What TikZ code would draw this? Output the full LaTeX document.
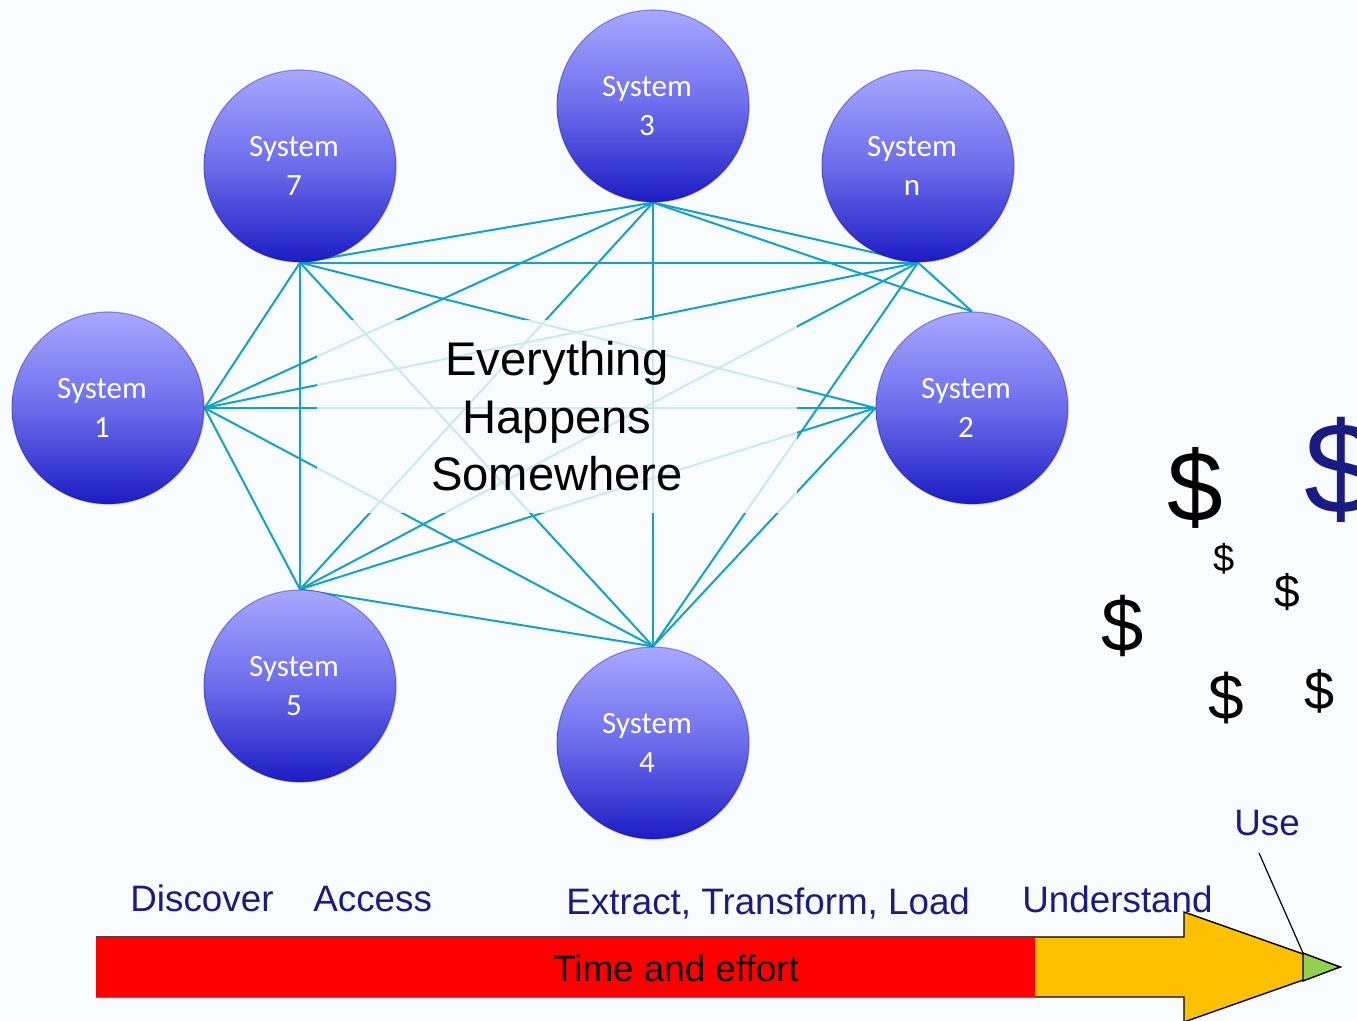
\documentclass[tikz,border=0pt]{standalone}
\usepackage{fontspec}
\setmainfont{Liberation Sans}
\newfontfamily\calfont{Carlito}
\usetikzlibrary{shadows}
\definecolor{bgc}{RGB}{248,252,254}
\definecolor{linec}{RGB}{18,163,196}
\definecolor{navyt}{RGB}{28,28,128}
\definecolor{dollarnavy}{RGB}{26,26,130}
\definecolor{sphtop}{RGB}{168,168,255}
\definecolor{sphmid}{RGB}{108,108,236}
\definecolor{sphbot}{RGB}{28,28,196}
\definecolor{arrowyel}{RGB}{255,192,0}
\definecolor{tipgreen}{RGB}{146,208,80}
\pgfdeclarelayer{back}
\pgfdeclarelayer{links}
\pgfsetlayers{back,links,main}
\newcommand{\syslabel}[1]{System\kern6pt\\#1\kern6pt}
\begin{document}
\begin{tikzpicture}[x=0.5pt,y=-0.5pt,
  sphere/.style={circle, minimum size=96pt, inner sep=0pt,
    top color=sphtop, bottom color=sphbot, middle color=sphmid,
    draw=sphbot!60!black, draw opacity=0.35, line width=0.6pt,
    circular drop shadow={opacity=0.3, shadow xshift=0.8pt, shadow yshift=-1.2pt, shadow scale=1.0},
    text=white, align=center, font=\calfont\fontsize{15.5}{19.5}\selectfont},
  link/.style={linec, line width=1pt},
  stage/.style={text=navyt, font=\fontsize{18.4}{22}\selectfont, inner sep=0pt, anchor=base west},
  dollar/.style={inner sep=0pt, font=\fontsize{#1}{#1}\selectfont},
  outl/.style={draw=black, line width=0.7pt}
]
\useasboundingbox (0,0) rectangle (1357,1021);
\begin{pgfonlayer}{back}
  \fill[bgc] (0,0) rectangle (1357,1021);
\end{pgfonlayer}
\begin{scope}
\clip (0,0) rectangle (1357,1021);

% central label with translucent box
\node[fill=bgc, fill opacity=0.8, text opacity=1, minimum width=240pt, minimum height=96.5pt,
  inner sep=0pt, align=center, font=\fontsize{23.6}{28.75}\selectfont] (ehs) at (557,416.5)
  {Everything\\Happens\\Somewhere};

% spheres
\node[sphere] (s3) at (653,106) {\syslabel{3}};
\node[sphere] (s7) at (300,166) {\syslabel{7}};
\node[sphere] (sn) at (918,166) {\syslabel{n}};
\node[sphere] (s1) at (108,408) {\syslabel{1}};
\node[sphere] (s2) at (972,408) {\syslabel{2}};
\node[sphere] (s5) at (300,686) {\syslabel{5}};
\node[sphere] (s4) at (653,743) {\syslabel{4}};

% links
\begin{pgfonlayer}{links}
  \draw[link] (s7.south) -- (s3.south);
  \draw[link] (s7.south) -- (sn.south);
  \draw[link] (s7.south) -- (s1.east);
  \draw[link] (s7.south) -- (s2.west);
  \draw[link] (s7.south) -- (s5.north);
  \draw[link] (s7.south) -- (s4.north);
  \draw[link] (s3.south) -- (sn.south);
  \draw[link] (s3.south) -- (s1.east);
  \draw[link] (s3.south) -- (s5.north);
  \draw[link] (s3.south) -- (s4.north);
  \draw[link] (s3.south) -- (s2.north);
  \draw[link] (sn.south) -- (s1.east);
  \draw[link] (sn.south) -- (s5.north);
  \draw[link] (sn.south) -- (s4.north);
  \draw[link] (sn.south) -- (s2.north);
  \draw[link] (s1.east) -- (s2.west);
  \draw[link] (s1.east) -- (s5.north);
  \draw[link] (s1.east) -- (s4.north);
  \draw[link] (s2.west) -- (s5.north);
  \draw[link] (s2.west) -- (s4.north);
  \draw[link] (s5.north) -- (s4.north);
\end{pgfonlayer}

% dollars
\node[dollar=50] (d1) at (1195,488) {\$};
\node[dollar=65, text=dollarnavy] (d2) at (1341,470) {\$};
\node[dollar=19] (d3) at (1224,559) {\$};
\node[dollar=23] (d4) at (1287,592) {\$};
\node[dollar=38] (d5) at (1123,626) {\$};
\node[dollar=32] (d6) at (1226,698) {\$};
\node[dollar=27] (d7) at (1320,691) {\$};

% stage labels
\node[stage] (discover) at (130,912) {Discover};
\node[stage] (access) at (313,912) {Access};
\node[stage] (etl) at (566,914) {Extract, Transform, Load};
\node[stage] (understand) at (1022,913) {Understand};
\node[stage] (use) at (1234,836) {Use};

% arrow
\draw[outl, fill=arrowyel] (1030,937) -- (1184,937) -- (1184,912) -- (1340,967)
  -- (1184,1022) -- (1184,997) -- (1030,997) -- cycle;
\node[fill=red, minimum width=469.5pt, minimum height=30pt, inner sep=0pt]
  (bar) at (565.5,967) {};
\draw[black!75, line width=0.5pt] (bar.north west) -- (bar.north east);
\draw[black!55, line width=0.4pt] (bar.south west) -- (bar.south east);
\node[inner sep=0pt, anchor=base, font=\fontsize{18.4}{22}\selectfont] (time) at (676,982) {Time and effort};
\coordinate (tiptop) at (1303,953);
\coordinate (tippt) at (1340,967);
\coordinate (tipbot) at (1303,981);
\draw[outl, fill=tipgreen] (tiptop) -- (tippt) -- (tipbot) -- cycle;
\coordinate (usefoot) at (1259,853);
\draw[black, line width=0.6pt] (usefoot) -- (tiptop);
\end{scope}
\end{tikzpicture}
\end{document}
